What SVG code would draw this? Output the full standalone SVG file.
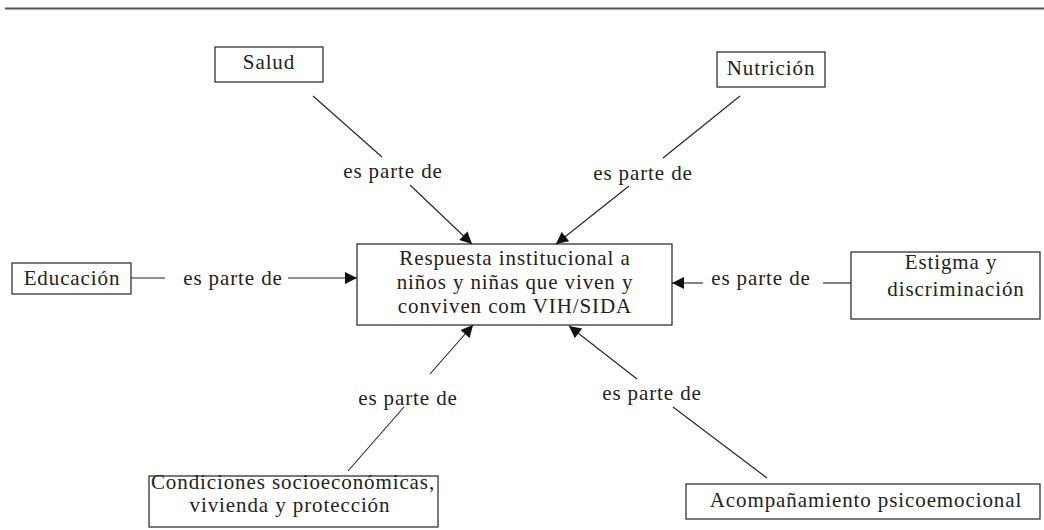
<svg xmlns="http://www.w3.org/2000/svg" width="1044" height="530" viewBox="0 0 1044 530">
<style>
.box{fill:#fff;stroke:#333;stroke-width:1.3}
.t{font-family:"Liberation Serif",serif;font-size:21px;letter-spacing:0.9px;fill:#222;text-anchor:middle}
.c{stroke:#222;stroke-width:1.1;fill:none}
</style>
<defs>
<marker id="ah" viewBox="0 0 10 10" refX="10" refY="5" markerWidth="13" markerHeight="12" markerUnits="userSpaceOnUse" orient="auto">
<path d="M0,0 L10,5 L0,10 z" fill="#111"/>
</marker>
</defs>
<line x1="5" y1="8.5" x2="1044" y2="8.5" stroke="#555" stroke-width="1.8"/>
<g id="center"><rect class="box" x="357" y="244" width="315" height="81"/>
<text class="t" x="515" y="265">Respuesta institucional a</text>
<text class="t" x="515" y="289">niños y niñas que viven y</text>
<text class="t" x="515" y="313">conviven com VIH/SIDA</text></g>
<g id="salud"><rect class="box" x="215" y="47" width="108" height="35"/><text class="t" x="269" y="69">Salud</text></g>
<g id="nutricion"><rect class="box" x="717" y="52" width="108" height="35"/><text class="t" x="771" y="75">Nutrición</text></g>
<g id="educacion"><rect class="box" x="12" y="263" width="119" height="31"/><text class="t" x="72" y="285">Educación</text></g>
<g id="estigma"><rect class="box" x="851" y="252" width="189" height="67"/><text class="t" x="951" y="269">Estigma y</text><text class="t" x="956" y="296">discriminación</text></g>
<g id="condiciones"><rect class="box" x="149" y="476" width="289" height="51"/><text class="t" x="293" y="489">Condiciones socioeconómicas,</text><text class="t" x="290" y="512">vivienda y protección</text></g>
<g id="acompanamiento"><rect class="box" x="686" y="484" width="354" height="35"/><text class="t" x="866" y="507">Acompañamiento psicoemocional</text></g>
<g id="connectors">
<line class="c" x1="313" y1="96" x2="382" y2="157"/>
<line class="c" x1="410" y1="185" x2="472" y2="244" marker-end="url(#ah)"/>
<text class="t" x="393" y="178">es parte de</text>
<line class="c" x1="740" y1="96" x2="663" y2="158"/>
<line class="c" x1="629" y1="186" x2="556" y2="244" marker-end="url(#ah)"/>
<text class="t" x="643" y="180">es parte de</text>
<line class="c" x1="131" y1="278" x2="165" y2="278"/>
<line class="c" x1="288" y1="278" x2="357" y2="278" marker-end="url(#ah)"/>
<text class="t" x="233" y="285">es parte de</text>
<line class="c" x1="851" y1="283" x2="823" y2="283"/>
<line class="c" x1="703" y1="283" x2="672" y2="283" marker-end="url(#ah)"/>
<text class="t" x="761" y="285">es parte de</text>
<line class="c" x1="348" y1="471" x2="404" y2="407"/>
<line class="c" x1="430" y1="374" x2="473" y2="325" marker-end="url(#ah)"/>
<text class="t" x="408" y="405">es parte de</text>
<line class="c" x1="767" y1="478" x2="673" y2="407"/>
<line class="c" x1="637" y1="379" x2="569" y2="326" marker-end="url(#ah)"/>
<text class="t" x="652" y="400">es parte de</text>
</g>
</svg>
